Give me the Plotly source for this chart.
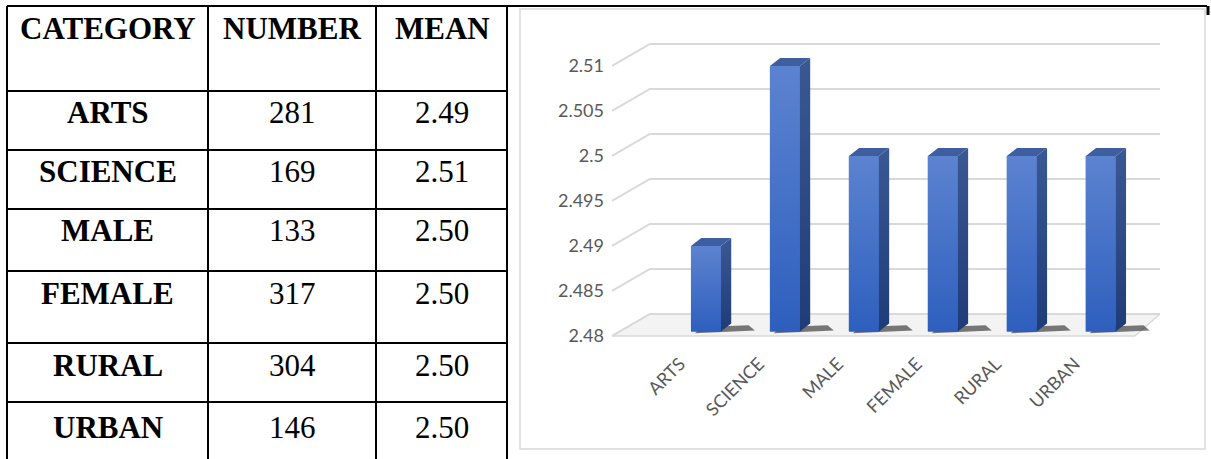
import plotly.graph_objects as go

# ---------------- data ----------------
categories = ["ARTS", "SCIENCE", "MALE", "FEMALE", "RURAL", "URBAN"]
numbers = [281, 169, 133, 317, 304, 146]
means = [2.49, 2.51, 2.50, 2.50, 2.50, 2.50]
mean_labels = ["2.49", "2.51", "2.50", "2.50", "2.50", "2.50"]
headers = ["CATEGORY", "NUMBER", "MEAN"]
y_ticks = [2.48, 2.485, 2.49, 2.495, 2.5, 2.505, 2.51]
y_tick_labels = ["2.48", "2.485", "2.49", "2.495", "2.5", "2.505", "2.51"]

# ---------------- layout constants ----------------
W, H = 1211, 459
PL, PR = 612, 1160          # chart plot area (pixels)
PT, PB = 30, 345
Y0, Y1 = 2.479, 2.514       # value range
X0, X1 = -1.19, 5.75        # category range
BASE = 2.4805               # bar base
BW = 0.38                   # bar front width
SX, SY = 0.13, 0.0009       # bar depth offset
GX, GY = 0.48, 0.00245      # wall / floor depth offset
FLOOR_RIGHT = 5.43

FRONT = "#4371cb"
GRID = "#d9d9d9"

fig = go.Figure()

# shadows
for i in range(len(categories)):
    x1 = i + BW / 2
    fig.add_trace(go.Scatter(
        x=[i - 0.14, x1 + SX + 0.3, x1 + SX + 0.22, i - 0.05, i - 0.14],
        y=[BASE - 0.0002, BASE + 0.0001, BASE + 0.0007, BASE + 0.0005, BASE - 0.0002],
        fill="toself", mode="lines", line=dict(width=0),
        fillcolor="rgba(35,35,35,0.6)", hoverinfo="skip", showlegend=False))

# front faces
fig.add_trace(go.Bar(
    x=list(range(len(categories))),
    y=[m - BASE for m in means],
    base=BASE, width=BW,
    marker=dict(color=FRONT, line=dict(width=0)),
    showlegend=False, hoverinfo="skip"))

# gradient shading, side and top faces
for i, m in enumerate(means):
    x0, x1 = i - BW / 2, i + BW / 2
    fig.add_trace(go.Scatter(
        x=[x0, x1, x1, x0, x0],
        y=[BASE, BASE, m, m, BASE],
        fill="toself", mode="lines", line=dict(width=0),
        fillgradient=dict(type="vertical", colorscale=[[0, "#2e5fbe"], [1, "#5c83d0"]]),
        hoverinfo="skip", showlegend=False))
    fig.add_trace(go.Scatter(
        x=[x1, x1 + SX, x1 + SX, x1, x1],
        y=[BASE, BASE + SY, m + SY, m, BASE],
        fill="toself", mode="lines", line=dict(width=0),
        fillgradient=dict(type="vertical", colorscale=[[0, "#1f3c78"], [1, "#3a5894"]]),
        hoverinfo="skip", showlegend=False))
    fig.add_trace(go.Scatter(
        x=[x0, x1, x1 + SX, x0 + SX, x0],
        y=[m, m, m + SY, m + SY, m],
        fill="toself", mode="lines", line=dict(width=0),
        fillcolor="#3f5e9f", hoverinfo="skip", showlegend=False))

shapes = []
# floor
shapes.append(dict(
    type="path", xref="x", yref="y", layer="below",
    path=f"M {X0},{Y0 + 0.001} L {FLOOR_RIGHT},{Y0 + 0.001} L {X1},{Y0 + 0.001 + GY} L {X0 + GX},{Y0 + 0.001 + GY} Z",
    fillcolor="#f3f3f3", line=dict(color=GRID, width=1.5)))
# back-wall gridlines with slanted side-wall part
for v in y_ticks:
    shapes.append(dict(
        type="path", xref="x", yref="y", layer="below",
        path=f"M {X0},{v} L {X0 + GX},{v + GY} L {X1},{v + GY}",
        line=dict(color=GRID, width=2)))

# ---------- table + chart frame (pixel-like coordinates on x2/y2) ----------
LINE = dict(color="black", width=2)
col_x = [7, 208, 376, 507]
row_y = [6, 91, 150, 209, 271, 343, 402]
shapes.append(dict(type="line", xref="x2", yref="y2", x0=col_x[0], x1=1207, y0=row_y[0], y1=row_y[0], line=LINE))
for ry in row_y[1:]:
    shapes.append(dict(type="line", xref="x2", yref="y2", x0=col_x[0], x1=col_x[-1], y0=ry, y1=ry, line=LINE))
for cx in col_x:
    shapes.append(dict(type="line", xref="x2", yref="y2", x0=cx, x1=cx, y0=row_y[0], y1=H + 5, line=LINE))
shapes.append(dict(type="line", xref="x2", yref="y2", x0=1208, x1=1208, y0=row_y[0], y1=15, line=dict(color="black", width=3)))
# chart frame
shapes.append(dict(type="rect", xref="x2", yref="y2", x0=520, x1=1205, y0=9, y1=449,
                   line=dict(color="#d9d9d9", width=1.5), fillcolor="rgba(0,0,0,0)", layer="below"))

annotations = []
col_cx = [107.5, 292, 442]
FONT = "Liberation Serif, Times New Roman, serif"
FS = 31
for cx, h in zip(col_cx, headers):
    annotations.append(dict(xref="x2", yref="y2", x=cx, y=28, text=f"<b>{h}</b>", showarrow=False,
                            font=dict(family=FONT, size=FS, color="black")))
row_cy = [112, 171, 230, 293, 365, 427]
for cy, c, n, m in zip(row_cy, categories, numbers, mean_labels):
    annotations.append(dict(xref="x2", yref="y2", x=col_cx[0], y=cy, text=f"<b>{c}</b>", showarrow=False,
                            font=dict(family=FONT, size=FS, color="black")))
    annotations.append(dict(xref="x2", yref="y2", x=col_cx[1], y=cy, text=str(n), showarrow=False,
                            font=dict(family=FONT, size=FS, color="black")))
    annotations.append(dict(xref="x2", yref="y2", x=col_cx[2], y=cy, text=m, showarrow=False,
                            font=dict(family=FONT, size=FS, color="black")))

LABEL_FONT = dict(family="Lato, Open Sans, sans-serif", size=18, color="#595959")

fig.update_layout(
    width=W, height=H,
    margin=dict(l=0, r=0, t=0, b=0),
    paper_bgcolor="white", plot_bgcolor="rgba(0,0,0,0)",
    showlegend=False,
    xaxis=dict(domain=[PL / W, PR / W], range=[X0, X1], tickmode="array",
               tickvals=list(range(len(categories))), ticktext=categories,
               tickangle=-45, showgrid=False, zeroline=False, showline=False, ticks="",
               tickfont=LABEL_FONT, ticklabelshift=-26, ticklabelstandoff=4, fixedrange=True),
    yaxis=dict(domain=[(H - PB) / H, (H - PT) / H], range=[Y0, Y1], tickmode="array",
               tickvals=y_ticks, ticktext=y_tick_labels, showgrid=False, zeroline=False,
               showline=False, ticks="", tickfont=LABEL_FONT, ticklabelstandoff=7, fixedrange=True),
    xaxis2=dict(domain=[0, 1], range=[0, W], visible=False, anchor="y2", fixedrange=True),
    yaxis2=dict(domain=[0, 1], range=[H, 0], visible=False, anchor="x2", fixedrange=True),
    shapes=shapes, annotations=annotations,
)

fig.write_html("out.html")
